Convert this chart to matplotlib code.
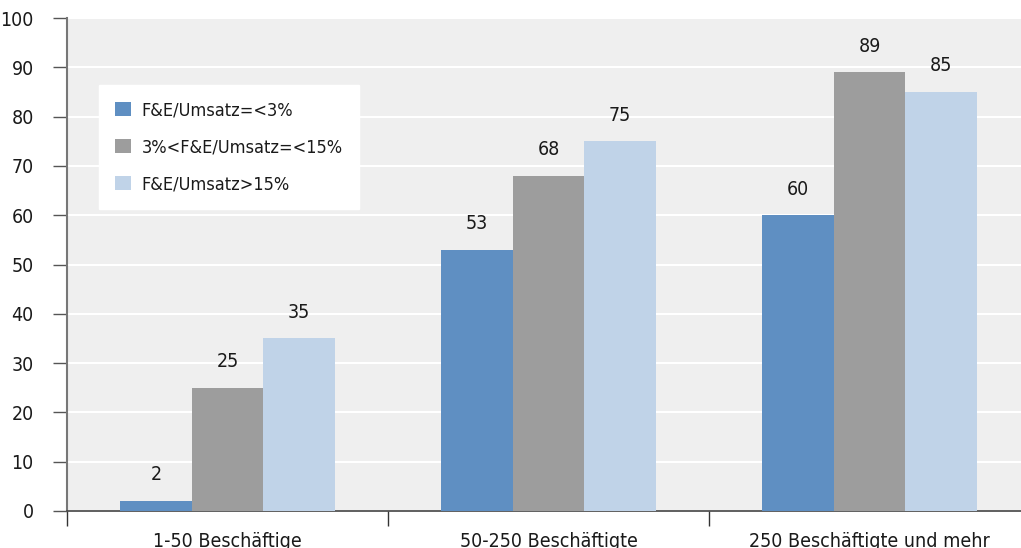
import numpy as np
import matplotlib.pyplot as plt

categories = ['1-50 Beschäftige', '50-250 Beschäftigte', '250 Beschäftigte und mehr']
series = ['F&E/Umsatz=<3%', '3%<F&E/Umsatz=<15%', 'F&E/Umsatz>15%']
low = [2, 53, 60]
mid = [25, 68, 89]
high = [35, 75, 85]
colors = ['#5f8fc2', '#9d9d9d', '#c0d3e8']

plt.rcParams['font.family'] = ['DejaVu Sans']
plt.rcParams['font.stretch'] = 'condensed'

fig = plt.figure(figsize=(10.21, 5.48), dpi=100)
ax = fig.add_axes([67/1021, 37/548, 963/1021, 493/548])
ax.set_facecolor('#efefef')

x = np.arange(len(categories))
w = 0.223
for i, (vals, lab) in enumerate(zip([low, mid, high], series)):
    bars = ax.bar(x + (i - 1) * w, vals, w, color=colors[i], label=lab, zorder=3)
    for b, v in zip(bars, vals):
        ax.annotate(str(v), (b.get_x() + b.get_width() / 2, v), xytext=(0, 12),
                    textcoords='offset points', ha='center', va='bottom',
                    fontsize=14, color='#1a1a1a')

ax.set_xlim(-0.5, 2.5)
ax.set_ylim(0, 100)
ax.set_yticks(range(0, 101, 10))
ax.yaxis.grid(True, color='white', linewidth=1.5, zorder=0)
ax.set_axisbelow(True)

ax.set_xticks(x)
ax.set_xticklabels(categories, fontsize=14, color='#1a1a1a')
ax.set_xticks([-0.5, 0.5, 1.5, 2.5], minor=True)
ax.tick_params(axis='x', which='major', length=0, pad=15)
ax.tick_params(axis='x', which='minor', length=11, width=1, color='#333333')
ax.tick_params(axis='y', length=10, width=1, color='#555555', labelsize=14,
               labelcolor='#1a1a1a', pad=14)

for s in ['top', 'right']:
    ax.spines[s].set_visible(False)
ax.spines['left'].set_color('#777777')
ax.spines['left'].set_linewidth(1.5)
ax.spines['bottom'].set_color('#444444')
ax.spines['bottom'].set_linewidth(1.2)

leg = ax.legend(loc='upper left', bbox_to_anchor=(32/963, 1 - 67/493), fontsize=13,
                frameon=True, fancybox=False, handlelength=0.85, handleheight=0.85,
                labelspacing=1.05, borderpad=0.9, handletextpad=0.6, borderaxespad=0)
leg.get_frame().set_facecolor('white')
leg.get_frame().set_edgecolor('white')
leg.get_frame().set_alpha(1)
for t in leg.get_texts():
    t.set_color('#1a1a1a')

fig.savefig('out.png', dpi=100)
